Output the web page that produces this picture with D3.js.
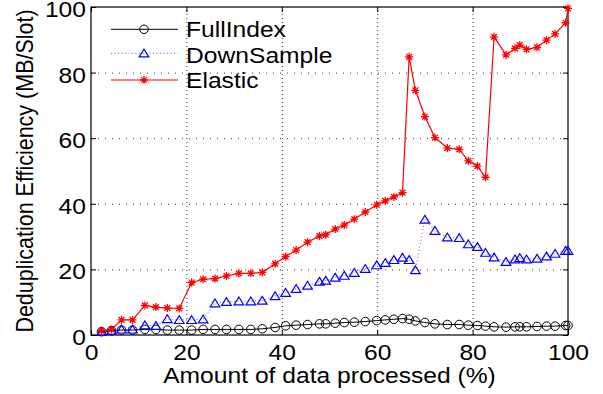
<!DOCTYPE html>
<html>
<head>
<meta charset="utf-8">
<script src="https://cdn.jsdelivr.net/npm/d3@7"></script>
<style>
  body { margin: 0; background: #fff; }
  svg text { font-family: "Liberation Sans", Arial, Helvetica, sans-serif; fill: #000; }
</style>
</head>
<body>
<div id="chart"></div>
<script>
'use strict'

// share of data processed (%), same for all three series
const xValues = [2.2, 4.3, 6.4, 8.7, 11.3, 13.6, 16.0, 18.5, 21.1, 23.5, 26.0, 28.4, 31.0, 33.5, 35.9, 38.6,
    40.8, 43.0, 45.4, 47.9, 49.2, 51.2, 53.1, 55.2, 57.5, 59.9, 61.7, 63.5, 65.3, 66.7, 68.0, 70.0,
    72.1, 74.7, 77.2, 79.1, 81.0, 82.7, 84.5, 87.0, 88.9, 89.9, 91.3, 93.5, 95.5, 97.3, 99.5, 100]

const fullIndex = [1.0, 1.3, 1.5, 1.5, 1.7, 1.7, 1.5, 1.5, 1.5, 1.7, 1.7, 1.7, 1.7, 1.7, 1.9, 2.3,
    2.8, 3.0, 3.2, 3.4, 3.4, 3.6, 3.8, 3.9, 4.1, 4.4, 4.6, 4.8, 5.0, 4.8, 4.3, 3.8,
    3.4, 3.2, 3.2, 3.0, 2.9, 2.7, 2.5, 2.4, 2.5, 2.5, 2.5, 2.6, 2.7, 2.7, 2.9, 2.9]

const downSample = [1.0, 1.3, 1.7, 1.7, 3.0, 2.8, 4.9, 4.6, 4.6, 4.8, 9.7, 10.1, 10.3, 10.3, 10.5, 11.9,
    12.9, 14.1, 15.1, 16.3, 16.6, 17.5, 18.1, 19.0, 20.2, 21.3, 22.0, 22.9, 23.6, 22.9, 19.8, 35.2,
    31.8, 29.8, 29.6, 27.7, 26.9, 25.1, 23.7, 22.3, 23.1, 23.5, 23.1, 23.3, 24.0, 24.8, 25.7, 25.7]

const elastic = [1.3, 1.7, 4.6, 4.6, 9.0, 8.5, 8.2, 8.1, 16.0, 17.0, 17.2, 18.0, 18.8, 18.8, 19.1, 21.7,
    23.9, 25.9, 28.3, 30.2, 30.6, 32.3, 33.5, 35.3, 37.5, 39.7, 40.9, 42.1, 43.4, 84.8, 74.6, 66.6,
    60.2, 57.0, 56.6, 53.1, 51.5, 48.1, 90.9, 85.4, 87.4, 88.4, 87.1, 87.7, 89.9, 91.8, 95.2, 99.6]

const seriesNames = ['FullIndex', 'DownSample', 'Elastic']
const xTicks = [0, 20, 40, 60, 80, 100]
const yTicks = [0, 20, 40, 60, 80, 100]

////////////////////////////////////
//////////// svg setup /////////////
////////////////////////////////////

const svgWidth = 603
const svgHeight = 394
const margin = { left: 91, right: 35, top: 7, bottom: 59 }
const width = svgWidth - margin.left - margin.right
const height = svgHeight - margin.top - margin.bottom

// the picture is a little wider than tall, text gets the same stretch
const stretch = 1.12
const fontSize = 22

const svg = d3.select('#chart').append('svg')
    .attr('width', svgWidth)
    .attr('height', svgHeight)

const g = svg.append('g')
    .attr('transform', 'translate(' + margin.left + ',' + margin.top + ')')

const x = d3.scaleLinear().domain([0, 100]).range([0, width])
const y = d3.scaleLinear().domain([0, 100]).range([height, 0])

// grid
const xGrid = g.append('g')
    .attr('transform', 'translate(0,' + height + ')')
    .call(d3.axisBottom(x).tickValues(xTicks.slice(1, -1)).tickSize(-height).tickFormat(''))
xGrid.select('.domain').remove()
xGrid.selectAll('line').attr('stroke', '#333').attr('stroke-dasharray', '1,3')

const yGrid = g.append('g')
    .call(d3.axisLeft(y).tickValues(yTicks.slice(1, -1)).tickSize(-width).tickFormat(''))
yGrid.select('.domain').remove()
yGrid.selectAll('line').attr('stroke', '#333').attr('stroke-dasharray', '1,6')

// axes, ticks pointing in
const xAxis = g.append('g')
    .attr('transform', 'translate(0,' + height + ')')
    .call(d3.axisBottom(x).tickValues(xTicks).tickSizeInner(-5).tickSizeOuter(0))
const yAxis = g.append('g')
    .call(d3.axisLeft(y).tickValues(yTicks).tickSizeInner(-5).tickSizeOuter(0))
const topAxis = g.append('g')
    .call(d3.axisTop(x).tickValues(xTicks).tickSizeInner(-5).tickSizeOuter(0).tickFormat(''))
const rightAxis = g.append('g')
    .attr('transform', 'translate(' + width + ',0)')
    .call(d3.axisRight(y).tickValues(yTicks).tickSizeInner(-5).tickSizeOuter(0).tickFormat(''))

;[xAxis, yAxis, topAxis, rightAxis].forEach(a => {
    a.select('.domain').remove()
    a.selectAll('line').attr('stroke', '#000')
})

xAxis.selectAll('text')
    .attr('y', null).attr('dy', null)
    .attr('font-size', fontSize)
    .attr('transform', 'translate(0,24.5) scale(' + stretch + ',1)')
yAxis.selectAll('text')
    .attr('x', null).attr('dy', null)
    .attr('font-size', fontSize)
    .attr('transform', 'translate(-5,9.5) scale(' + stretch + ',1)')

// frame
g.append('rect')
    .attr('width', width)
    .attr('height', height)
    .attr('fill', 'none')
    .attr('stroke', '#000')
    .attr('stroke-width', 1.2)

// axis titles
svg.append('text')
    .attr('text-anchor', 'middle')
    .attr('font-size', fontSize)
    .attr('transform', 'translate(' + (margin.left + width / 2) + ',382.5) scale(' + stretch + ',1)')
    .text('Amount of data processed (%)')

svg.append('text')
    .attr('text-anchor', 'middle')
    .attr('font-size', 21.5)
    .attr('transform', 'translate(33,' + (margin.top + height / 2) + ') scale(' + stretch + ',1) rotate(-90)')
    .text('Deduplication Efficiency (MB/Slot)')

////////////////////////////////////
///////////// markers //////////////
////////////////////////////////////

const markers = {
    circle: sel => sel.append('circle').attr('r', 4.3)
        .attr('fill', 'none').attr('stroke', '#000').attr('stroke-width', 1),
    triangle: sel => sel.append('path').attr('d', 'M0,-4.2L4.8,3.6L-4.8,3.6Z')
        .attr('fill', 'none').attr('stroke', '#00f').attr('stroke-width', 1.2),
    star: sel => sel.append('path').attr('d', 'M-4,0H4M0,-4V4M-2.9,-2.9L2.9,2.9M-2.9,2.9L2.9,-2.9')
        .attr('stroke', '#f00').attr('stroke-width', 1.3)
}

const series = [
    { name: seriesNames[0], values: fullIndex, color: '#000', dash: null, width: 1, marker: 'circle' },
    { name: seriesNames[1], values: downSample, color: '#55f', dash: '1,2.5', width: 1, marker: 'triangle' },
    { name: seriesNames[2], values: elastic, color: '#f00', dash: null, width: 1.2, marker: 'star' }
]

const line = d3.line()
    .x(d => x(d[0]))
    .y(d => y(d[1]))

series.forEach(s => {
    const pts = xValues.map((xv, i) => [xv, s.values[i]])

    g.append('path')
        .datum(pts)
        .attr('d', line)
        .attr('fill', 'none')
        .attr('stroke', s.color)
        .attr('stroke-width', s.width)
        .attr('stroke-dasharray', s.dash)

    g.append('g').selectAll('g')
        .data(pts)
        .join('g')
        .attr('transform', d => 'translate(' + x(d[0]) + ',' + y(d[1]) + ')')
        .each(function () { markers[s.marker](d3.select(this)) })
})

////////////////////////////////////
///////////// legend ///////////////
////////////////////////////////////

const legendRows = [29.3, 53.3, 80]
const legendText = [37.3, 62.7, 88.3]

series.forEach((s, i) => {
    const row = svg.append('g')
    row.append('line')
        .attr('x1', 111).attr('x2', 178)
        .attr('y1', legendRows[i]).attr('y2', legendRows[i])
        .attr('stroke', s.color)
        .attr('stroke-width', s.width)
        .attr('stroke-dasharray', s.dash)
    markers[s.marker](row.append('g').attr('transform', 'translate(144,' + legendRows[i] + ')'))
    row.append('text')
        .attr('font-size', fontSize)
        .attr('transform', 'translate(186,' + legendText[i] + ') scale(' + stretch + ',1)')
        .text(s.name)
})
</script>
</body>
</html>
